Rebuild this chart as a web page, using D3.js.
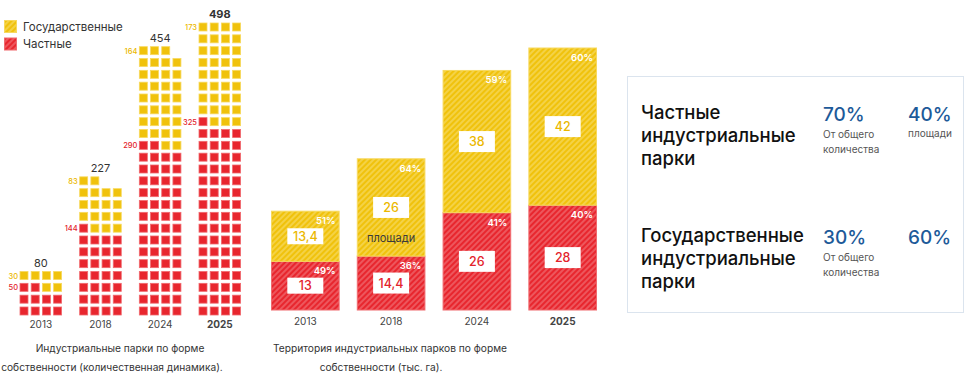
<!DOCTYPE html>
<html lang="ru">
<head>
<meta charset="UTF-8">
<title>Индустриальные парки по форме собственности</title>
<script src="https://d3js.org/d3.v7.min.js"></script>
<style>
  body { margin: 0; background: #fff; font-family: Inter, "Noto Sans", sans-serif; }
  svg { display: block; }
</style>
</head>
<body>
<svg width="974" height="387"></svg>
<script>
// --- data ---
const years = ["2013", "2018", "2024", "2025"];
const parksTotal = [80, 227, 454, 498];
const parksGov = [30, 83, 164, 173];
const parksPriv = [50, 144, 290, 325];
const parksPerSquare = 5;

const areaPriv = [13, 14.4, 26, 28];
const areaGov = [13.4, 26, 38, 42];
const sharePriv = [49, 36, 41, 40];
const shareGov = [51, 64, 59, 60];

const legendLabels = ["Государственные", "Частные"];
const captionLeft = ["Индустриальные парки по форме", "собственности (количественная динамика)."];
const captionRight = ["Территория индустриальных парков по форме", "собственности (тыс. га)."];

const panelTitles = [["Частные", "индустриальные", "парки"], ["Государственные", "индустриальные", "парки"]];
const panelCount = [70, 30];
const panelArea = [40, 60];
const panelCountNote = [["От общего", "количества"], ["От общего", "количества"]];
const panelAreaNote = [["площади"], []];

// --- colours ---
const yellow = "#f0c20c", yellowLight = "#f7d95f", yellowText = "#ebb800";
const red = "#e8262e", redLight = "#f06a6f", redText = "#e3232b";
const blue = "#1d5a99";

const svg = d3.select("svg");
const fmt = v => String(v).replace(".", ",");

// hatch patterns
const defs = svg.append("defs");
function hatch(id, base, stripe) {
    const p = defs.append("pattern").attr("id", id)
        .attr("patternUnits", "userSpaceOnUse")
        .attr("width", 4).attr("height", 4)
        .attr("patternTransform", "rotate(45)");
    p.append("rect").attr("width", 4).attr("height", 4).attr("fill", base);
    p.append("line").attr("x1", 1).attr("y1", 0).attr("x2", 1).attr("y2", 4)
        .attr("stroke", stripe).attr("stroke-width", 1.4);
}
hatch("hatchY", yellow, yellowLight);
hatch("hatchR", red, redLight);

// --- legend ---
const legend = svg.append("g");
legendLabels.forEach((t, i) => {
    const y = 20 + i * 17.5;
    legend.append("rect").attr("x", 4.5).attr("y", y + 0.5).attr("width", 12).attr("height", 12)
        .attr("fill", i === 0 ? "url(#hatchY)" : "url(#hatchR)")
        .attr("stroke", i === 0 ? yellowLight : redLight);
    legend.append("text").attr("x", 23).attr("y", y + 10.5)
        .attr("font-size", 11.5).attr("fill", "#333").text(t);
});

// --- waffle chart ---
const colX = d3.scalePoint().domain(years).range([20, 199]);
const rowY = d3.scaleLinear().domain([0, 24]).range([307, 23]);
const colStep = 11.2, sq = 8, perRow = 4;
const colMid = (perRow - 1) * colStep / 2 + sq / 2;

const waffle = svg.append("g");
years.forEach((yr, i) => {
    const nPriv = Math.round(parksPriv[i] / parksPerSquare);
    const nGov = Math.round(parksGov[i] / parksPerSquare);
    const cells = d3.range(nPriv + nGov).map(k => ({
        row: Math.floor(k / perRow), col: k % perRow, priv: k < nPriv
    }));
    const x0 = colX(yr);
    waffle.selectAll(null).data(cells).enter().append("rect")
        .attr("x", d => x0 + d.col * colStep)
        .attr("y", d => rowY(d.row))
        .attr("width", sq).attr("height", sq)
        .attr("fill", d => d.priv ? red : yellow)
        .attr("stroke", d => d.priv ? redLight : yellowLight)
        .attr("stroke-width", 0.8);

    const topRow = Math.floor((nPriv + nGov - 1) / perRow);
    const privRow = Math.floor((nPriv - 1) / perRow);
    const bold = yr === "2025";

    waffle.append("text").attr("x", x0 + colMid).attr("y", rowY(topRow) - 5)
        .attr("text-anchor", "middle").attr("font-size", 11)
        .attr("font-weight", bold ? 700 : 400).attr("fill", "#333")
        .text(parksTotal[i]);
    waffle.append("text").attr("x", x0 - 2).attr("y", rowY(topRow) + 7)
        .attr("text-anchor", "end").attr("font-size", 7.5).attr("font-weight", 500)
        .attr("fill", yellowText).text(parksGov[i]);
    waffle.append("text").attr("x", x0 - 2).attr("y", rowY(privRow) + 7)
        .attr("text-anchor", "end").attr("font-size", 7.5).attr("font-weight", 500)
        .attr("fill", redText).text(parksPriv[i]);
    waffle.append("text").attr("x", x0 + colMid).attr("y", 328)
        .attr("text-anchor", "middle").attr("font-size", 10)
        .attr("font-weight", bold ? 700 : 400).attr("fill", "#444").text(yr);
});

// --- stacked bars (area) ---
const xb = d3.scaleBand().domain(years).range([271, 597]).paddingInner(0.2);
const yb = d3.scaleLinear().domain([0, 70]).range([310, 48]);
const bw = xb.bandwidth();

const segs = [];
years.forEach((yr, i) => {
    segs.push({ yr, i, lo: 0, hi: areaPriv[i], v: areaPriv[i], share: sharePriv[i], priv: true });
    segs.push({ yr, i, lo: areaPriv[i], hi: areaPriv[i] + areaGov[i], v: areaGov[i], share: shareGov[i], priv: false });
});

const bars = svg.append("g");
bars.selectAll(".seg").data(segs).enter().append("rect")
    .attr("class", "seg")
    .attr("x", d => xb(d.yr) + 0.5)
    .attr("y", d => yb(d.hi))
    .attr("width", bw - 1)
    .attr("height", d => yb(d.lo) - yb(d.hi))
    .attr("fill", d => d.priv ? "url(#hatchR)" : "url(#hatchY)")
    .attr("stroke", d => d.priv ? redLight : yellowLight)
    .attr("stroke-width", 1);

bars.selectAll(".pct").data(segs).enter().append("text")
    .attr("class", "pct")
    .attr("x", d => xb(d.yr) + bw - 4)
    .attr("y", d => yb(d.hi) + 13)
    .attr("text-anchor", "end").attr("font-size", 9.5).attr("font-weight", 600)
    .attr("fill", "#fff").text(d => d.share + "%");

const boxW = 36;
const boxH = d => d.i === 0 ? 16 : 21;
bars.selectAll(".box").data(segs).enter().append("rect")
    .attr("class", "box")
    .attr("x", d => xb(d.yr) + bw / 2 - boxW / 2)
    .attr("y", d => (yb(d.lo) + yb(d.hi)) / 2 - boxH(d) / 2)
    .attr("width", boxW).attr("height", boxH)
    .attr("fill", "#fff");
bars.selectAll(".val").data(segs).enter().append("text")
    .attr("class", "val")
    .attr("x", d => xb(d.yr) + bw / 2)
    .attr("y", d => (yb(d.lo) + yb(d.hi)) / 2 + 4.5)
    .attr("text-anchor", "middle").attr("font-size", 12.5).attr("font-weight", 500)
    .attr("fill", d => d.priv ? redText : yellowText)
    .text(d => fmt(d.v));

// stray label inside 2018 bar
bars.append("text").attr("x", xb("2018") + bw / 2).attr("y", 242)
    .attr("text-anchor", "middle").attr("font-size", 11).attr("fill", "#3a3a3a")
    .text("площади");

bars.selectAll(".yr").data(years).enter().append("text")
    .attr("class", "yr")
    .attr("x", d => xb(d) + bw / 2).attr("y", 325)
    .attr("text-anchor", "middle").attr("font-size", 10)
    .attr("font-weight", d => d === "2025" ? 700 : 400).attr("fill", "#444")
    .text(d => d);

// --- captions ---
const cap = svg.append("g").attr("font-size", 10.2).attr("fill", "#333").attr("text-anchor", "middle");
cap.append("text").attr("x", 120).attr("y", 352).text(captionLeft[0]);
cap.append("text").attr("x", 112).attr("y", 371).text(captionLeft[1]);
cap.append("text").attr("x", 390).attr("y", 352).text(captionRight[0]);
cap.append("text").attr("x", 381).attr("y", 371).text(captionRight[1]);

// --- summary panel ---
const panel = svg.append("g");
panel.append("rect").attr("x", 627.5).attr("y", 76.5).attr("width", 336).attr("height", 236)
    .attr("fill", "#fff").attr("stroke", "#dbe4ee");

const blockY = [119, 242];
panelTitles.forEach((lines, b) => {
    const y0 = blockY[b];
    lines.forEach((t, j) => {
        panel.append("text").attr("x", 641).attr("y", y0 + j * 23)
            .attr("font-size", 18.5).attr("font-weight", 500).attr("fill", "#111").text(t);
    });
    panel.append("text").attr("x", 823).attr("y", y0 + 2)
        .attr("font-size", 19).attr("font-weight", 500).attr("fill", blue).text(panelCount[b] + "%");
    panel.append("text").attr("x", 908).attr("y", y0 + 2)
        .attr("font-size", 19).attr("font-weight", 500).attr("fill", blue).text(panelArea[b] + "%");
    panelCountNote[b].forEach((t, j) => {
        panel.append("text").attr("x", 823).attr("y", y0 + 19 + j * 14.5)
            .attr("font-size", 10).attr("fill", "#555").text(t);
    });
    panelAreaNote[b].forEach((t, j) => {
        panel.append("text").attr("x", 908).attr("y", y0 + 18 + j * 14.5)
            .attr("font-size", 10).attr("fill", "#555").text(t);
    });
});
</script>
</body>
</html>
